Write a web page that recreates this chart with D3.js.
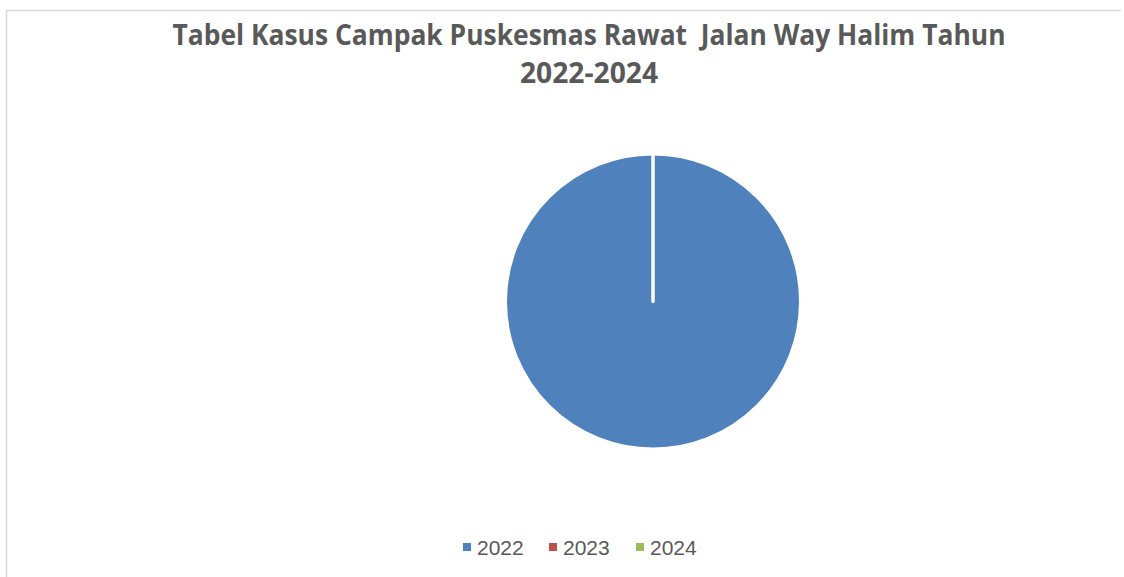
<!DOCTYPE html>
<html><head><meta charset="utf-8">
<script src="https://cdn.jsdelivr.net/npm/d3@7"></script>
<style>html,body{margin:0;padding:0;background:#fff;}svg{display:block;}</style>
</head><body>
<svg id="c" width="1124" height="577"></svg>
<script>
const categories = ["2022", "2023", "2024"];
const values = [1, 0, 0];
const colors = ["#4F81BD", "#C0504D", "#9BBB59"];
const titleLines = ["Tabel Kasus Campak Puskesmas Rawat  Jalan Way Halim Tahun", "2022-2024"];

const svg = d3.select("#c");
// chart area border
svg.append("path").attr("d", "M6.5,577 L6.5,10.5 L1121,10.5")
  .attr("fill", "none").attr("stroke", "#d9d9d9").attr("stroke-width", 1.5);

const font = "'Liberation Sans Narrow','Open Sans','DejaVu Sans Condensed',sans-serif";
const t1 = svg.append("text").attr("x", 589).attr("y", 45).attr("text-anchor", "middle")
  .attr("font-family", font).attr("font-weight", "bold").attr("font-size", 28)
  .attr("fill", "#595959").style("white-space", "pre").text(titleLines[0]);
const t2 = svg.append("text").attr("x", 589).attr("y", 83).attr("text-anchor", "middle")
  .attr("font-family", font).attr("font-weight", "bold").attr("font-size", 28)
  .attr("fill", "#595959").text(titleLines[1]);
// fit widths to reference
t1.attr("textLength", 833).attr("lengthAdjust", "spacingAndGlyphs");
t2.attr("textLength", 138).attr("lengthAdjust", "spacingAndGlyphs");

const cx = 653, cy = 301.5, r = 147.5;
const pie = d3.pie().sort(null).value(d => d.v);
const arc = d3.arc().innerRadius(0).outerRadius(r);
const data = categories.map((c, i) => ({c, v: values[i], col: colors[i]}));
const g = svg.append("g").attr("transform", `translate(${cx},${cy})`);
g.selectAll("path").data(pie(data)).join("path")
  .attr("d", arc).attr("fill", d => d.data.col)
  .attr("stroke", "#fff").attr("stroke-width", 3).attr("stroke-linejoin", "round");

// legend
const lx = [463, 549, 636];
const lg = svg.append("g");
data.forEach((d, i) => {
  lg.append("rect").attr("x", lx[i]).attr("y", 543).attr("width", 8).attr("height", 8).attr("fill", d.col);
  lg.append("text").attr("x", lx[i] + 14).attr("y", 555)
    .attr("font-family", "'Liberation Sans','Open Sans',sans-serif").attr("font-size", 21)
    .attr("fill", "#595959").text(d.c);
});
</script>
</body></html>
